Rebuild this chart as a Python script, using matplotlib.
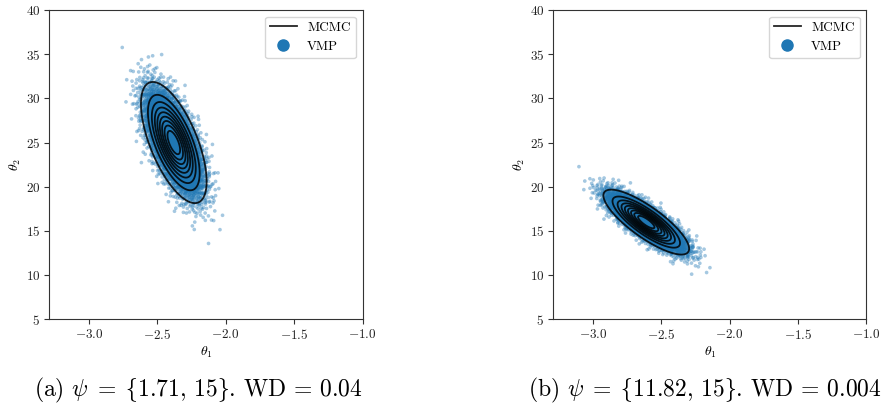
import numpy as np
import matplotlib
matplotlib.use("Agg")
import matplotlib.pyplot as plt
from matplotlib.lines import Line2D

plt.rcParams['font.family'] = 'serif'
plt.rcParams['font.serif'] = ['cmr10', 'DejaVu Serif']
plt.rcParams['mathtext.fontset'] = 'cm'
plt.rcParams['axes.formatter.use_mathtext'] = True
plt.rcParams['axes.unicode_minus'] = True

# ---- data (distribution summaries) ----
panel_labels = ["(a)", "(b)"]
psi_values = [r"\lbrace 1.71,\, 15\rbrace", r"\lbrace 11.82,\, 15\rbrace"]
wd_values = ["0.04", "0.004"]
means_theta1 = [-2.38, -2.61]
means_theta2 = [25.0, 16.0]
sd_theta1 = [0.098, 0.128]
sd_theta2 = [2.8, 1.5]
correlations = [-0.64, -0.82]
n_points = [7000, 7000]
kde_levels = list(np.linspace(0.05, 1.0, 10)[:-1])  # iso-proportion levels
x_ticks = [-3.0, -2.5, -2.0, -1.5, -1.0]
y_ticks = [5, 10, 15, 20, 25, 30, 35, 40]
x_limits = (-3.29, -1.0)
y_limits = (5, 40)


def halton(n, base):
    out = np.zeros(n)
    for i in range(n):
        f, r, k = 1.0, 0.0, i + 1
        while k > 0:
            f /= base
            r += f * (k % base)
            k //= base
        out[i] = r
    return out


def cloud(m1, m2, s1, s2, rho, n):
    u = halton(n, 2)
    v = halton(n, 3)
    rad = np.sqrt(-2 * np.log(u))
    z1 = rad * np.cos(2 * np.pi * v)
    z2 = rad * np.sin(2 * np.pi * v)
    x = m1 + s1 * z1
    y = m2 + s2 * (rho * z1 + np.sqrt(1 - rho ** 2) * z2)
    return x, y


fig = plt.figure(figsize=(8.81, 4.08), dpi=100)
lefts = [0.056, 0.628]
blue = '#1f77b4'

for i in range(2):
    ax = fig.add_axes([lefts[i], 0.2174, 0.3555, 0.7581])
    x, y = cloud(means_theta1[i], means_theta2[i], sd_theta1[i], sd_theta2[i],
                 correlations[i], n_points[i])
    ax.scatter(x, y, s=7, color=blue, alpha=0.4, edgecolors='none', zorder=2)

    gx = np.linspace(x_limits[0], x_limits[1], 400)
    gy = np.linspace(y_limits[0], y_limits[1], 400)
    X, Y = np.meshgrid(gx, gy)
    a = (X - means_theta1[i]) / sd_theta1[i]
    b = (Y - means_theta2[i]) / sd_theta2[i]
    rho = correlations[i]
    d2 = (a ** 2 - 2 * rho * a * b + b ** 2) / (1 - rho ** 2)
    dens = np.exp(-d2 / 2)
    ax.contour(X, Y, dens, levels=kde_levels, colors='k', linewidths=1.3,
               alpha=0.85, zorder=3)

    ax.set_xlim(*x_limits)
    ax.set_ylim(*y_limits)
    ax.set_xticks(x_ticks)
    ax.set_yticks(y_ticks)
    ax.tick_params(labelsize=9.5, length=3.5, width=0.8, pad=3,
                   colors='#333333', labelcolor='#222222')
    ax.set_xlabel(r'$\theta_1$', fontsize=10, labelpad=2)
    ax.set_ylabel(r'$\theta_2$', fontsize=10, labelpad=2)
    for sp in ax.spines.values():
        sp.set_linewidth(0.8)
        sp.set_color('#333333')

    handles = [Line2D([0], [0], color='k', lw=1.3, alpha=0.85),
               Line2D([0], [0], marker='o', color=blue, lw=0, markersize=8)]
    ax.legend(handles, ['MCMC', 'VMP'], loc='upper right', fontsize=9.5)

caption_x = [0.225, 0.800]
for i in range(2):
    fig.text(caption_x[i], 0.029,
             panel_labels[i] + r" $\psi\;=\;" + psi_values[i] + r"$. WD = " + wd_values[i],
             ha='center', va='baseline', fontsize=17)

fig.savefig('out.png', dpi=100)
